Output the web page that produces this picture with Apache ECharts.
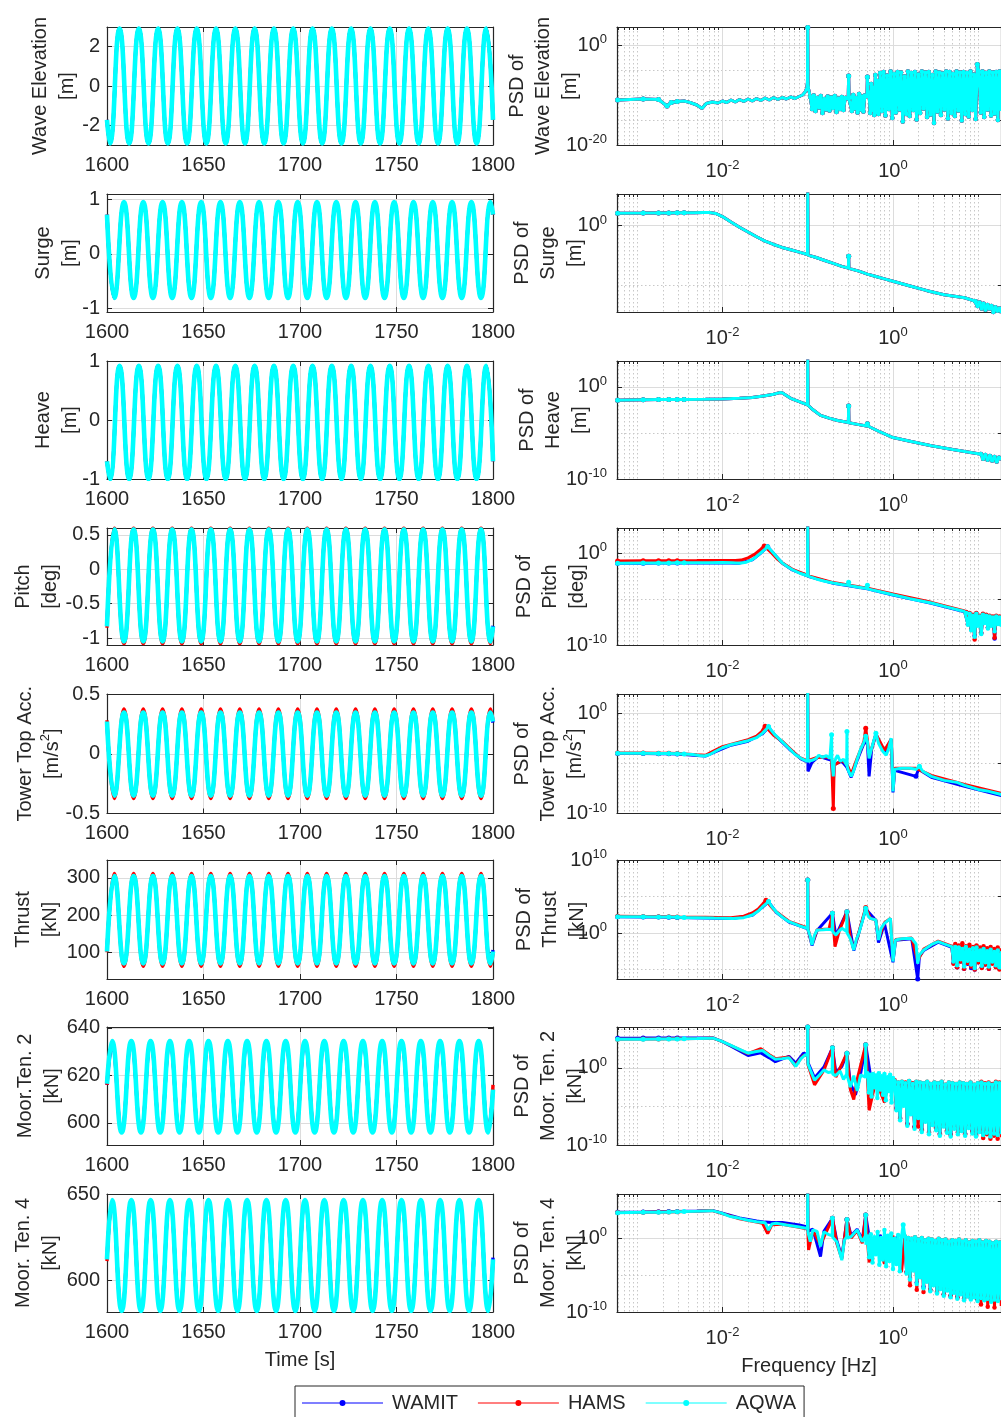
<!DOCTYPE html>
<html><head><meta charset="utf-8">
<script src="https://cdn.jsdelivr.net/npm/echarts@6/dist/echarts.min.js"></script>
<style>html,body{margin:0;padding:0;background:#fff}#c{width:1001px;height:1417px}</style>
</head><body><div id="c"></div><script>
// evenly spaced frequency bins (log10 Hz) for a run of values
function band(lf0, lf1, vals){ const n = vals.length; return vals.map((v,i)=>[lf0 + (lf1-lf0)*i/(n-1), v, 2]); }

// ---------- time axis (s): turning points of the signals ----------
const timeTicks = [1600,1650,1700,1750,1800];
const tA = [1600,1601.5,1606.5,1611.5,1616.5,1621.5,1626.5,1631.5,1636.5,1641.5,1646.5,1651.5,1656.5,1661.5,1666.5,1671.5,1676.5,1681.5,1686.5,1691.5,1696.5,1701.5,1706.5,1711.5,1716.5,1721.5,1726.5,1731.5,1736.5,1741.5,1746.5,1751.5,1756.5,1761.5,1766.5,1771.5,1776.5,1781.5,1786.5,1791.5,1796.5,1800];
const tB = [1600,1603.8,1608.8,1613.8,1618.8,1623.8,1628.8,1633.8,1638.8,1643.8,1648.8,1653.8,1658.8,1663.8,1668.8,1673.8,1678.8,1683.8,1688.8,1693.8,1698.8,1703.8,1708.8,1713.8,1718.8,1723.8,1728.8,1733.8,1738.8,1743.8,1748.8,1753.8,1758.8,1763.8,1768.8,1773.8,1778.8,1783.8,1788.8,1793.8,1798.8,1800];
const tC = [1600,1602.6,1607.6,1612.6,1617.6,1622.6,1627.6,1632.6,1637.6,1642.6,1647.6,1652.6,1657.6,1662.6,1667.6,1672.6,1677.6,1682.6,1687.6,1692.6,1697.6,1702.6,1707.6,1712.6,1717.6,1722.6,1727.6,1732.6,1737.6,1742.6,1747.6,1752.6,1757.6,1762.6,1767.6,1772.6,1777.6,1782.6,1787.6,1792.6,1797.6,1800];

// ---------- time series values ----------
const waveElev = [-1.72,-2.92,2.92,-2.92,2.92,-2.92,2.92,-2.92,2.92,-2.92,2.92,-2.92,2.92,-2.92,2.92,-2.92,2.92,-2.92,2.92,-2.92,2.92,-2.92,2.92,-2.92,2.92,-2.92,2.92,-2.92,2.92,-2.92,2.92,-2.92,2.92,-2.92,2.92,-2.92,2.92,-2.92,2.92,-2.92,2.92,-1.72];
const surgeAll = [0.72,-0.81,0.95,-0.81,0.95,-0.81,0.95,-0.81,0.95,-0.81,0.95,-0.81,0.95,-0.81,0.95,-0.81,0.95,-0.81,0.95,-0.81,0.95,-0.81,0.95,-0.81,0.95,-0.81,0.95,-0.81,0.95,-0.81,0.95,-0.81,0.95,-0.81,0.95,-0.81,0.95,-0.81,0.95,-0.81,0.95,0.72];
const heaveAll = [-0.70,-1.0,0.92,-1.0,0.92,-1.0,0.92,-1.0,0.92,-1.0,0.92,-1.0,0.92,-1.0,0.92,-1.0,0.92,-1.0,0.92,-1.0,0.92,-1.0,0.92,-1.0,0.92,-1.0,0.92,-1.0,0.92,-1.0,0.92,-1.0,0.92,-1.0,0.92,-1.0,0.92,-1.0,0.92,-1.0,0.92,-0.70];
const pitchAQWA = [-0.83,0.58,-1.05,0.58,-1.05,0.58,-1.05,0.58,-1.05,0.58,-1.05,0.58,-1.05,0.58,-1.05,0.58,-1.05,0.58,-1.05,0.58,-1.05,0.58,-1.05,0.58,-1.05,0.58,-1.05,0.58,-1.05,0.58,-1.05,0.58,-1.05,0.58,-1.05,0.58,-1.05,0.58,-1.05,0.58,-1.05,-0.83];
const pitchHAMS = [-0.85,0.60,-1.08,0.60,-1.08,0.60,-1.08,0.60,-1.08,0.60,-1.08,0.60,-1.08,0.60,-1.08,0.60,-1.08,0.60,-1.08,0.60,-1.08,0.60,-1.08,0.60,-1.08,0.60,-1.08,0.60,-1.08,0.60,-1.08,0.60,-1.08,0.60,-1.08,0.60,-1.08,0.60,-1.08,0.60,-1.08,-0.85];
const pitchWAMIT = [-0.82,0.57,-1.04,0.57,-1.04,0.57,-1.04,0.57,-1.04,0.57,-1.04,0.57,-1.04,0.57,-1.04,0.57,-1.04,0.57,-1.04,0.57,-1.04,0.57,-1.04,0.57,-1.04,0.57,-1.04,0.57,-1.04,0.57,-1.04,0.57,-1.04,0.57,-1.04,0.57,-1.04,0.57,-1.04,0.57,-1.04,-0.82];
const towerAQWA = [0.27,-0.35,0.345,-0.35,0.345,-0.35,0.345,-0.35,0.345,-0.35,0.345,-0.35,0.345,-0.35,0.345,-0.35,0.345,-0.35,0.345,-0.35,0.345,-0.35,0.345,-0.35,0.345,-0.35,0.345,-0.35,0.345,-0.35,0.345,-0.35,0.345,-0.35,0.345,-0.35,0.345,-0.35,0.345,-0.35,0.345,0.27];
const towerHAMS = [0.28,-0.375,0.375,-0.375,0.375,-0.375,0.375,-0.375,0.375,-0.375,0.375,-0.375,0.375,-0.375,0.375,-0.375,0.375,-0.375,0.375,-0.375,0.375,-0.375,0.375,-0.375,0.375,-0.375,0.375,-0.375,0.375,-0.375,0.375,-0.375,0.375,-0.375,0.375,-0.375,0.375,-0.375,0.375,-0.375,0.375,0.28];
const towerWAMIT = [0.26,-0.335,0.33,-0.335,0.33,-0.335,0.33,-0.335,0.33,-0.335,0.33,-0.335,0.33,-0.335,0.33,-0.335,0.33,-0.335,0.33,-0.335,0.33,-0.335,0.33,-0.335,0.33,-0.335,0.33,-0.335,0.33,-0.335,0.33,-0.335,0.33,-0.335,0.33,-0.335,0.33,-0.335,0.33,-0.335,0.33,0.26];
const thrustAQWA = [102,305,70,305,70,305,70,305,70,305,70,305,70,305,70,305,70,305,70,305,70,305,70,305,70,305,70,305,70,305,70,305,70,305,70,305,70,305,70,305,70,102];
const thrustHAMS = [100,312,62,312,62,312,62,312,62,312,62,312,62,312,62,312,62,312,62,312,62,312,62,312,62,312,62,312,62,312,62,312,62,312,62,312,62,312,62,312,62,98];
const thrustWAMIT = [103,300,74,300,74,300,74,300,74,300,74,300,74,300,74,300,74,300,74,300,74,300,74,300,74,300,74,300,74,300,74,300,74,300,74,300,74,300,74,300,74,106];
const moor2AQWA = [616.5,634.5,596,634.5,596,634.5,596,634.5,596,634.5,596,634.5,596,634.5,596,634.5,596,634.5,596,634.5,596,634.5,596,634.5,596,634.5,596,634.5,596,634.5,596,634.5,596,634.5,596,634.5,596,634.5,596,634.5,596,614];
const moor2HAMS = [616,633.5,597,633.5,597,633.5,597,633.5,597,633.5,597,633.5,597,633.5,597,633.5,597,633.5,597,633.5,597,633.5,597,633.5,597,633.5,597,633.5,597,633.5,597,633.5,597,633.5,597,633.5,597,633.5,597,633.5,597,616];
const moor2WAMIT = [616,632,598,632,598,632,598,632,598,632,598,632,598,632,598,632,598,632,598,632,598,632,598,632,598,632,598,632,598,632,598,632,598,632,598,632,598,632,598,632,598,614];
const moor4AQWA = [612,646.5,582,646.5,582,646.5,582,646.5,582,646.5,582,646.5,582,646.5,582,646.5,582,646.5,582,646.5,582,646.5,582,646.5,582,646.5,582,646.5,582,646.5,582,646.5,582,646.5,582,646.5,582,646.5,582,646.5,582,612];
const moor4HAMS = [611,645,583.5,645,583.5,645,583.5,645,583.5,645,583.5,645,583.5,645,583.5,645,583.5,645,583.5,645,583.5,645,583.5,645,583.5,645,583.5,645,583.5,645,583.5,645,583.5,645,583.5,645,583.5,645,583.5,645,583.5,611];
const moor4WAMIT = [612,644,584,644,584,644,584,644,584,644,584,644,584,644,584,644,584,644,584,644,584,644,584,644,584,644,584,644,584,644,584,644,584,644,584,644,584,644,584,644,584,613];

// ---------- PSD: [log10 f (Hz), log10 PSD, marker flag] ----------
const psdXMajor = [-2, 0];
const psdWave = [[-3.23,-11.0,1],[-2.93,-10.8,1],[-2.75,-10.9,1],[-2.65,-12.2,1],[-2.6,-11.5,1],[-2.53,-11.3,1],[-2.45,-11.2],[-2.38,-11.5],[-2.3,-12.0],[-2.24,-12.7],[-2.19,-11.7],[-2.12,-11.4],[-2.05,-11.6],[-2.0,-11.2],[-1.95,-11.5],[-1.9,-11.0],[-1.85,-11.4],[-1.8,-10.9],[-1.75,-11.3],[-1.7,-10.8],[-1.65,-11.2],[-1.6,-10.7],[-1.55,-11.1],[-1.5,-10.6],[-1.45,-11.0],[-1.4,-10.5],[-1.35,-10.9],[-1.3,-10.5],[-1.25,-10.8],[-1.2,-10.4],[-1.15,-10.7],[-1.1,-10.3],[-1.06,-10.0],[-1.03,-9.4],[-1.01,-8.6],[-1.003,-7.5],[-1.0,3.5,1],[-0.997,-7.5],[-0.99,-8.8],[-0.98,-9.6]]
 .concat(band(-0.97,-0.56,[-10.4,-12.8,-10.1,-13.2,-10.6,-12.5,-10.2,-13.6,-10.8,-12.9,-10.3,-13.1,-10.5,-12.6,-10.2,-13.4,-10.7,-12.8,-10.4,-13.0,-10.6]))
 .concat([[-0.525,-10.8],[-0.52,-6.2,1],[-0.515,-10.9]])
 .concat(band(-0.50,-0.33,[-10.5,-13.2,-10.0,-12.7,-10.6,-13.5,-9.8,-12.9,-10.3,-13.3,-10.1]))
 .concat([[-0.305,-10.5],[-0.30,-6.4,1],[-0.295,-10.6]])
 .concat(band(-0.28,-0.17,[-9.5,-13.6,-7.8,-13.0,-8.5,-14.0,-6.0,-13.4,-7.2,-13.8]))
 .concat(band(-0.15,0.97,[-5.6,-13.2,-5.4,-14.1,-6.1,-12.8,-5.3,-14.6,-5.8,-13.5,-5.4,-12.9,-5.5,-15.3,-6.3,-13.8,-5.3,-14.2,-5.6,-13.0,-5.4,-14.9,-5.9,-13.6,-5.3,-12.7,-5.5,-14.4,-5.4,-13.9,-6.0,-15.6,-5.3,-13.3,-5.5,-14.0,-5.7,-12.9,-5.3,-14.7,-5.4,-13.6,-5.8,-14.2,-5.3,-13.1,-5.5,-15.1,-5.4,-13.8,-5.6,-14.3,-5.3,-13.0,-5.9,-14.8]))
 .concat([[0.99,-3.9,1]])
 .concat(band(1.01,1.27,[-5.4,-13.5,-5.3,-14.4,-5.6,-12.9,-5.3,-14.1,-5.5,-13.7,-5.4,-15.0,-5.3,-13.2]));

const psdSurge = [[-3.23,1.04,1],[-2.93,1.05,1],[-2.75,1.06,1],[-2.63,1.06,1],[-2.53,1.07,1],[-2.45,1.07,1],[-2.33,1.08],[-2.23,1.1],[-2.15,1.1],[-2.08,1.02],[-2.0,0.76],[-1.9,0.3],[-1.8,-0.15],[-1.7,-0.55],[-1.6,-0.95],[-1.5,-1.32],[-1.4,-1.6],[-1.3,-1.85],[-1.2,-2.05],[-1.1,-2.25],[-1.003,-2.45],[-1.0,2.9,1],[-0.997,-2.5],[-0.9,-2.7],[-0.8,-2.95],[-0.7,-3.2],[-0.6,-3.45],[-0.523,-3.6],[-0.52,-2.6,1],[-0.517,-3.62],[-0.4,-3.85],[-0.3,-4.1],[-0.2,-4.3],[-0.1,-4.5],[0,-4.7],[0.2,-5.1],[0.4,-5.5],[0.6,-5.85],[0.84,-6.1],[0.95,-6.35]]
 .concat(band(0.97,1.27,[-6.4,-6.8,-6.5,-7.0,-6.6,-7.1,-6.7,-7.0,-6.8,-7.3,-6.9,-7.2,-7.0,-7.4]));

const psdHeave = [[-3.23,-1.45,1],[-2.93,-1.4,1],[-2.75,-1.38,1],[-2.63,-1.38,1],[-2.53,-1.37,1],[-2.45,-1.37,1],[-2.2,-1.35],[-2.0,-1.33],[-1.8,-1.25],[-1.65,-1.15],[-1.5,-0.98],[-1.4,-0.8],[-1.33,-0.63],[-1.3,-0.64],[-1.25,-0.95],[-1.2,-1.25],[-1.1,-1.6],[-1.003,-1.95],[-1.0,3,1],[-0.997,-2.0],[-0.95,-2.4],[-0.85,-3.1],[-0.75,-3.4],[-0.65,-3.65],[-0.523,-3.88],[-0.52,-2.07,1],[-0.517,-3.9],[-0.4,-4.1],[-0.31,-4.24],[-0.30,-4.0,1],[-0.29,-4.28],[-0.15,-4.9],[0,-5.5],[0.2,-5.9],[0.45,-6.4],[0.7,-6.8],[1.0,-7.25]]
 .concat(band(1.03,1.27,[-7.3,-7.8,-7.4,-7.9,-7.5,-8.0,-7.6,-8.1,-7.7,-7.9]));

const psdPitchAQWA = [[-3.23,-1.09,1],[-2.93,-1.07,1],[-2.75,-1.06,1],[-2.63,-1.06,1],[-2.53,-1.05,1],[-2.45,-1.05,1],[-2.3,-1.04],[-2.15,-1.03],[-2.0,-1.02],[-1.88,-1.04],[-1.8,-1.08],[-1.72,-0.98],[-1.65,-0.7],[-1.6,-0.35],[-1.55,0.05],[-1.5,0.45],[-1.47,0.72,1],[-1.44,0.4],[-1.4,0.0],[-1.35,-0.55],[-1.3,-1.05],[-1.24,-1.45],[-1.18,-1.8],[-1.1,-2.15],[-1.003,-2.45],[-1.0,3,1],[-0.997,-2.5],[-0.9,-2.8],[-0.8,-3.05],[-0.7,-3.25],[-0.6,-3.4],[-0.523,-3.5],[-0.52,-3.15,1],[-0.517,-3.52],[-0.4,-3.7],[-0.303,-3.85],[-0.3,-3.5,1],[-0.297,-3.88],[-0.15,-4.2],[0,-4.53],[0.2,-4.95],[0.45,-5.43],[0.65,-5.9],[0.84,-6.35]]
 .concat(band(0.86,1.27,[-6.5,-7.8,-6.6,-8.4,-6.8,-9.1,-6.6,-7.9,-6.9,-8.8,-6.7,-7.6,-6.8,-8.2,-6.9,-7.9,-7.0,-8.5,-6.9,-7.7,-7.0,-8.0]));
const psdPitchHAMS = [[-3.23,-0.85,1],[-2.93,-0.83,1],[-2.75,-0.82,1],[-2.63,-0.82,1],[-2.53,-0.81,1],[-2.3,-0.8],[-2.0,-0.78],[-1.85,-0.8],[-1.78,-0.75],[-1.7,-0.5],[-1.62,-0.1],[-1.56,0.35],[-1.51,0.8,1],[-1.47,0.45],[-1.42,0.0],[-1.36,-0.6],[-1.3,-1.05],[-1.18,-1.75],[-1.003,-2.4],[-1.0,3,1],[-0.997,-2.45],[-0.7,-3.2],[-0.3,-3.8],[0,-4.45],[0.45,-5.35],[0.84,-6.3]]
 .concat(band(0.86,1.27,[-6.4,-7.7,-6.5,-8.3,-6.7,-9.4,-6.5,-7.8,-6.8,-8.7,-6.6,-7.5,-6.7,-8.1,-6.8,-7.8,-6.9,-9.2,-6.8,-7.6,-6.9,-7.9]));
const psdPitchWAMIT = [[-3.23,-1.1,1],[-2.93,-1.08,1],[-2.75,-1.07,1],[-2.63,-1.07,1],[-2.53,-1.06,1],[-2.0,-1.03],[-1.8,-1.08],[-1.65,-0.72],[-1.55,0.03],[-1.47,0.7,1],[-1.4,-0.02],[-1.3,-1.07],[-1.18,-1.82],[-1.003,-2.47],[-1.0,3,1],[-0.997,-2.52],[-0.7,-3.27],[-0.3,-3.87],[0,-4.55],[0.45,-5.45],[0.84,-6.37]]
 .concat(band(0.86,1.27,[-6.5,-7.7,-6.6,-8.3,-6.8,-9.0,-6.6,-7.8,-6.9,-8.7,-6.7,-7.5,-6.8,-8.1,-6.9,-7.8,-7.0,-9.3,-6.9,-7.6,-7.0,-7.9]));

const psdTowerAQWA = [[-3.23,-4.0,1],[-2.93,-4.0,1],[-2.75,-4.02,1],[-2.63,-4.03,1],[-2.53,-4.05,1],[-2.45,-4.07,1],[-2.35,-4.12],[-2.27,-4.22],[-2.21,-4.27],[-2.15,-4.12],[-2.08,-3.8],[-2.0,-3.45],[-1.9,-3.15],[-1.8,-2.95],[-1.7,-2.75],[-1.6,-2.45],[-1.53,-2.0],[-1.49,-1.65],[-1.46,-1.33,1],[-1.43,-1.7],[-1.38,-2.2],[-1.3,-2.85],[-1.22,-3.5],[-1.15,-4.1],[-1.08,-4.5],[-1.03,-4.7],[-1.003,-4.8],[-1.0,2.0,1],[-0.997,-4.8],[-0.95,-4.7],[-0.9,-4.5],[-0.87,-4.2],[-0.83,-4.4],[-0.78,-4.25],[-0.74,-4.5],[-0.723,-4.6],[-0.72,-2.17,1],[-0.717,-4.6],[-0.70,-6.3],[-0.69,-5.0],[-0.67,-4.5],[-0.65,-4.2],[-0.62,-4.8],[-0.58,-4.6],[-0.543,-5.2],[-0.54,-1.83,1],[-0.537,-5.3],[-0.52,-5.8],[-0.49,-6.3],[-0.46,-5.7],[-0.42,-4.6],[-0.38,-3.6],[-0.34,-2.9],[-0.32,-2.3,1],[-0.30,-2.8],[-0.28,-4.5],[-0.25,-3.5],[-0.2,-2.0,1],[-0.17,-3.0],[-0.12,-3.8],[-0.08,-4.2],[-0.05,-3.5],[-0.02,-2.5],[0.0,-7.8],[0.02,-5.6],[0.1,-5.5],[0.2,-5.5],[0.27,-5.6],[0.31,-5.3,1],[0.35,-5.8],[0.45,-6.3],[0.6,-6.7],[0.75,-6.9],[0.84,-7.2],[1.0,-7.6],[1.1,-7.75],[1.27,-8.1]];
const psdTowerHAMS = [[-3.23,-3.98,1],[-2.93,-3.98,1],[-2.75,-4.0,1],[-2.63,-4.0,1],[-2.53,-4.02,1],[-2.3,-4.15],[-2.2,-4.2],[-2.1,-3.75],[-2.0,-3.35],[-1.85,-3.0],[-1.7,-2.65],[-1.6,-2.3],[-1.54,-1.85],[-1.5,-1.3,1],[-1.46,-1.65],[-1.4,-2.2],[-1.3,-2.8],[-1.2,-3.6],[-1.1,-4.4],[-1.003,-4.75],[-1.0,2.0,1],[-0.997,-4.75],[-0.9,-4.45],[-0.8,-4.35],[-0.72,-4.5],[-0.70,-9.5,1],[-0.69,-5.2],[-0.6,-4.7],[-0.54,-5.1],[-0.49,-6.1],[-0.42,-4.5],[-0.34,-2.8],[-0.32,-1.5,1],[-0.30,-2.7],[-0.28,-4.4],[-0.2,-2.1],[-0.1,-3.7],[-0.02,-2.6],[0.0,-7.6],[0.02,-5.5],[0.27,-5.5],[0.45,-6.2],[0.84,-7.1],[1.27,-8.0]];
const psdTowerWAMIT = [[-3.23,-4.02,1],[-2.93,-4.02,1],[-2.75,-4.04,1],[-2.63,-4.05,1],[-2.53,-4.08,1],[-2.3,-4.22],[-2.2,-4.28],[-2.08,-3.85],[-1.9,-3.2],[-1.7,-2.8],[-1.53,-2.05],[-1.46,-1.4,1],[-1.38,-2.25],[-1.22,-3.55],[-1.08,-4.55],[-1.003,-4.85],[-1.0,2.0,1],[-0.997,-5.8],[-0.98,-5.7],[-0.95,-4.9],[-0.87,-4.3],[-0.72,-4.7],[-0.70,-7.0],[-0.69,-5.1],[-0.6,-4.8],[-0.54,-5.4],[-0.49,-6.4],[-0.42,-4.7],[-0.34,-3.0],[-0.30,-2.9],[-0.28,-6.3],[-0.25,-3.6],[-0.2,-2.1],[-0.1,-3.9],[-0.02,-2.6],[0.0,-7.9],[0.02,-5.7],[0.27,-6.3,1],[0.3,-5.6],[0.45,-6.4],[0.84,-7.3],[1.27,-8.2]];

const psdThrustAQWA = [[-3.23,2.24,1],[-2.93,2.22,1],[-2.75,2.2,1],[-2.63,2.18,1],[-2.53,2.15,1],[-2.45,2.12,1],[-2.3,2.1],[-2.1,2.05],[-1.88,2.0],[-1.75,2.1],[-1.65,2.47],[-1.58,3.0],[-1.53,3.6],[-1.49,4.0],[-1.46,4.3,1],[-1.42,3.6],[-1.37,2.9],[-1.3,2.2],[-1.22,1.55],[-1.1,1.0],[-1.003,0.64],[-1.0,7.26,1],[-0.997,0.5],[-0.97,-0.5],[-0.95,-1.64],[-0.92,-0.3],[-0.89,0.41],[-0.82,0.45],[-0.75,0.5],[-0.713,0.4],[-0.71,2.7,1],[-0.707,0.2],[-0.67,-0.27],[-0.63,0.3],[-0.6,0.64],[-0.543,0.2],[-0.54,2.92,1],[-0.537,0.0],[-0.5,-0.8],[-0.46,-2.33],[-0.43,-0.9],[-0.40,0.0],[-0.36,1.6],[-0.32,3.38,1],[-0.29,2.3],[-0.265,2.0],[-0.2,1.78],[-0.17,-0.96],[-0.14,0.6],[-0.1,1.33],[-0.03,2.0],[0.0,-3.9],[0.03,-0.96],[0.1,-0.8],[0.22,-0.73],[0.27,-1.5],[0.29,-4.2],[0.31,-3.0],[0.36,-2.33],[0.45,-1.6],[0.53,-1.19],[0.6,-1.5],[0.69,-1.87]]
 .concat(band(0.71,1.27,[-3.9,-1.9,-4.4,-2.0,-3.6,-2.2,-4.6,-1.9,-3.8,-2.3,-4.3,-2.1,-4.8,-2.0,-3.7,-2.4,-4.5,-2.2,-4.0,-2.5,-4.6,-2.3,-3.9,-2.6,-4.4,-2.4,-4.7,-2.5]));
const psdThrustHAMS = [[-3.23,2.28,1],[-2.93,2.26,1],[-2.75,2.24,1],[-2.63,2.22,1],[-2.53,2.2,1],[-2.2,2.15],[-1.9,2.1],[-1.75,2.3],[-1.65,2.75],[-1.58,3.3],[-1.53,3.95],[-1.49,4.5,1],[-1.45,3.9],[-1.4,3.2],[-1.3,2.3],[-1.22,1.6],[-1.003,0.7],[-1.0,7.26,1],[-0.997,0.6],[-0.95,-1.5],[-0.89,0.45],[-0.75,0.55],[-0.71,2.7,1],[-0.68,-1.87],[-0.63,0.3],[-0.54,2.92,1],[-0.5,-0.7],[-0.46,-2.2],[-0.40,0.1],[-0.32,3.5,1],[-0.265,2.0],[-0.2,1.8],[-0.17,-0.8],[-0.1,1.4],[-0.03,2.0],[0.0,-3.7],[0.03,-0.9],[0.22,-0.7],[0.29,-3.8],[0.36,-2.2],[0.53,-1.1],[0.69,-1.8]]
 .concat(band(0.71,1.27,[-4.2,-1.5,-4.7,-1.7,-3.9,-1.4,-4.9,-1.8,-4.1,-1.6,-4.6,-1.9,-5.0,-1.7,-4.0,-2.0,-4.8,-1.8,-4.3,-2.1,-4.9,-1.9,-4.2,-2.2,-4.7,-2.0,-5.0,-2.1]));
const psdThrustWAMIT = [[-3.23,2.22,1],[-2.93,2.2,1],[-2.75,2.18,1],[-2.63,2.16,1],[-2.53,2.13,1],[-2.2,2.06],[-1.88,1.98],[-1.65,2.42],[-1.53,3.55],[-1.46,4.25,1],[-1.37,2.85],[-1.22,1.5],[-1.003,0.6],[-1.0,7.26,1],[-0.997,0.45],[-0.95,-1.7],[-0.89,0.35],[-0.71,2.7,1],[-0.67,-0.4],[-0.54,2.92,1],[-0.46,-2.4],[-0.32,3.3,1],[-0.2,1.7],[-0.17,-1.3],[-0.1,1.3],[0.0,-4.0],[0.03,-1.0],[0.22,-0.8],[0.29,-6.3,1],[0.31,-3.2],[0.36,-2.4],[0.53,-1.25],[0.69,-1.95]]
 .concat(band(0.71,1.27,[-4.1,-2.0,-4.7,-2.1,-3.9,-2.3,-4.9,-2.0,-4.2,-2.4,-4.8,-2.2,-5.0,-2.1,-4.0,-2.5,-4.7,-2.3,-4.3,-2.6,-4.9,-2.4,-4.1,-2.7,-4.6,-2.5,-4.9,-2.6]));

const psdMoor2AQWA = [[-3.23,3.7,1],[-2.93,3.72,1],[-2.75,3.74,1],[-2.63,3.75,1],[-2.53,3.76,1],[-2.45,3.77,1],[-2.3,3.8],[-2.11,3.85],[-2.02,3.5],[-1.92,3.0],[-1.8,2.4],[-1.7,1.9],[-1.62,2.1],[-1.53,2.25],[-1.45,1.6],[-1.38,1.13],[-1.3,1.2],[-1.22,1.3],[-1.16,0.5],[-1.14,0.2],[-1.08,1.2],[-1.03,1.7],[-1.003,1.6],[-1.0,5.3,1],[-0.997,0.5],[-0.97,-0.26],[-0.92,-1.6],[-0.86,-0.9],[-0.81,-0.26],[-0.76,-0.6],[-0.713,-0.5],[-0.71,2.6,1],[-0.707,-0.8],[-0.67,-1.0],[-0.62,-0.4],[-0.58,-1.5],[-0.543,-0.8],[-0.54,1.9,1],[-0.537,-1.0],[-0.5,-2.5],[-0.46,-1.0],[-0.42,-3.0],[-0.38,-0.9],[-0.323,-1.2],[-0.32,3.0,1],[-0.317,-1.3]]
 .concat(band(-0.30,0.0,[-0.7,-3.2,-0.9,-3.7,-0.8,-2.5,-1.0,-3.9,-0.7,-2.8,-1.1,-3.5,-0.8,-4.2,-1.2,-3.0,-0.9,-4.5,-1.3]))
 .concat(band(0.02,1.27,[-1.7,-5.5,-1.9,-6.8,-1.8,-4.9,-2.0,-7.5,-1.7,-6.0,-2.1,-7.9,-1.8,-6.5,-1.9,-8.3,-2.0,-7.0,-1.8,-8.6,-2.1,-7.4,-1.9,-8.1,-2.0,-8.8,-1.8,-7.6,-2.2,-8.4,-1.9,-8.9,-2.0,-7.9,-2.1,-8.6,-1.9,-8.2,-2.0,-8.8,-2.1,-7.8,-1.9,-8.5,-2.2,-8.9,-2.0,-8.3,-1.9,-8.7,-2.1,-8.4,-2.0,-8.9,-2.2,-8.5,-1.9,-8.7,-2.0,-8.6]));
const psdMoor2HAMS = [[-3.23,3.72,1],[-2.93,3.74,1],[-2.75,3.76,1],[-2.63,3.77,1],[-2.53,3.78,1],[-2.3,3.82],[-2.11,3.86],[-2.0,3.4],[-1.9,2.9],[-1.7,1.85],[-1.55,2.5],[-1.45,1.7],[-1.38,1.2],[-1.22,1.4],[-1.15,0.3],[-1.05,1.6],[-1.003,1.6],[-1.0,5.3,1],[-0.997,0.4],[-0.92,-2.2],[-0.81,-0.3],[-0.71,2.6,1],[-0.67,-1.2],[-0.54,1.9,1],[-0.5,-2.8],[-0.46,-4.1],[-0.42,-1.5],[-0.32,3.0,1],[-0.28,-5.5],[-0.2,-1.6],[-0.1,-4.5],[-0.05,-1.5]]
 .concat(band(0.02,1.27,[-1.6,-5.3,-1.9,-6.6,-1.8,-4.7,-1.9,-7.3,-1.7,-5.8,-2.0,-7.7,-1.8,-7.6,-1.9,-8.1,-2.0,-6.8,-1.8,-8.4,-2.1,-7.2,-1.9,-7.9,-2.0,-8.6,-1.8,-7.4,-2.2,-8.2,-1.9,-8.7,-2.0,-7.7,-2.1,-8.4,-1.9,-8.0,-2.0,-8.6,-2.1,-7.6,-1.9,-8.3,-2.2,-8.7,-2.0,-8.1,-1.8,-9.1,-2.0,-8.6,-1.9,-9.2,-2.1,-8.8,-1.8,-9.2,-1.9,-9.0]));
const psdMoor2WAMIT = [[-3.23,3.85,1],[-2.93,3.86,1],[-2.75,3.87,1],[-2.63,3.87,1],[-2.53,3.88,1],[-2.3,3.88],[-2.11,3.88],[-2.0,3.4],[-1.9,2.8],[-1.7,1.6],[-1.55,1.95],[-1.45,1.3],[-1.38,0.8],[-1.22,1.5],[-1.14,0.6],[-1.05,1.9],[-1.003,1.7],[-1.0,5.3,1],[-0.997,0.7],[-0.92,-1.3],[-0.81,0.1],[-0.71,2.6,1],[-0.67,-0.6],[-0.6,0.2],[-0.54,1.9,1],[-0.5,-2.0],[-0.44,-3.5],[-0.38,-0.8],[-0.32,3.0,1],[-0.25,-2.0],[-0.15,-1.2],[-0.1,-3.2],[0.0,-1.4]]
 .concat(band(0.02,1.27,[-1.8,-5.2,-2.0,-6.5,-1.9,-4.7,-2.1,-7.2,-1.8,-5.7,-2.2,-7.6,-1.9,-6.2,-2.0,-8.0,-2.1,-6.7,-1.9,-8.3,-2.2,-7.1,-2.0,-7.8,-2.1,-8.5,-1.9,-7.3,-2.3,-8.1,-2.0,-8.6,-2.1,-7.6,-2.2,-8.3,-2.0,-7.9,-2.1,-8.5,-2.2,-7.5,-2.0,-8.2,-2.3,-8.6,-2.1,-8.0,-2.0,-8.4,-2.2,-8.1,-2.1,-8.6,-2.3,-8.2,-2.0,-8.4,-2.1,-8.3]));

const psdMoor4AQWA = [[-3.23,3.43,1],[-2.93,3.47,1],[-2.75,3.5,1],[-2.63,3.52,1],[-2.53,3.55,1],[-2.45,3.57,1],[-2.3,3.62],[-2.12,3.7],[-2.02,3.4],[-1.92,2.95],[-1.8,2.66],[-1.7,2.4],[-1.6,2.2],[-1.5,2.07],[-1.46,1.08],[-1.42,1.9],[-1.37,2.0],[-1.25,1.75],[-1.1,1.5],[-1.003,1.3],[-1.0,6.0,1],[-0.997,0.8],[-0.97,-0.5],[-0.94,1.1],[-0.89,0.9],[-0.85,-1.15],[-0.81,0.85],[-0.76,0.5],[-0.713,0.3],[-0.71,2.66,1],[-0.707,0.1],[-0.66,-0.5],[-0.6,-3.0],[-0.57,-0.3],[-0.543,0.2],[-0.54,2.5,1],[-0.537,0.0],[-0.49,0.2],[-0.42,1.1],[-0.36,-0.5],[-0.323,0.3],[-0.32,3.1,1],[-0.317,-0.9]]
 .concat(band(-0.30,0.10,[0.2,-2.6,0.5,-3.3,0.1,-2.2,0.8,-3.6,0.0,-2.9,1.1,-3.8,0.3,-3.1,0.6,-4.2,-0.1,-3.5,0.4,-4.5,0.2]))
 .concat([[0.12,1.8,1]])
 .concat(band(0.14,1.27,[0.2,-4.8,0.0,-5.6,-0.1,-4.4,0.1,-6.2,-0.2,-5.3,0.0,-6.8,-0.3,-5.9,-0.1,-7.2,-0.2,-6.4,-0.4,-7.5,-0.1,-6.9,-0.3,-7.8,-0.2,-7.1,-0.5,-8.0,-0.3,-7.4,-0.4,-8.2,-0.2,-7.6,-0.5,-8.4,-0.3,-7.9,-0.6,-8.3,-0.4,-8.0,-0.5,-8.5,-0.3,-8.1,-0.6,-8.4,-0.4,-8.2,-0.5,-8.6,-0.7,-8.3,-0.5,-8.5,-0.6,-8.4]));
const psdMoor4HAMS = [[-3.23,3.45,1],[-2.93,3.48,1],[-2.75,3.51,1],[-2.63,3.53,1],[-2.53,3.56,1],[-2.3,3.63],[-2.12,3.71],[-2.0,3.3],[-1.8,2.6],[-1.6,2.15],[-1.53,2.0],[-1.47,0.6],[-1.42,1.8],[-1.3,1.85],[-1.1,1.45],[-1.003,1.2],[-1.0,6.0,1],[-0.997,0.5],[-0.99,-1.6],[-0.94,1.0],[-0.85,-0.9],[-0.71,2.66,1],[-0.66,-0.7],[-0.6,-2.8],[-0.54,2.5,1],[-0.49,0.0],[-0.42,1.0],[-0.36,-0.7],[-0.32,3.1,1],[-0.28,-3.3],[-0.2,0.1],[-0.1,-3.5],[0.0,0.3],[0.1,-4.6]]
 .concat(band(0.14,1.27,[0.2,-4.6,0.0,-6.4,-0.1,-4.2,0.1,-7.0,-0.2,-5.1,0.0,-7.3,-0.3,-5.7,-0.1,-7.0,-0.2,-6.2,-0.4,-7.3,-0.1,-6.7,-0.3,-7.6,-0.2,-6.9,-0.5,-7.8,-0.3,-7.2,-0.4,-8.0,-0.2,-7.4,-0.5,-8.2,-0.3,-7.7,-0.6,-8.1,-0.4,-7.8,-0.5,-8.3,-0.3,-9.0,-0.6,-8.2,-0.4,-9.3,-0.5,-8.4,-0.7,-9.4,-0.5,-8.3,-0.6,-9.2]));
const psdMoor4WAMIT = [[-3.23,3.5,1],[-2.93,3.53,1],[-2.75,3.56,1],[-2.63,3.58,1],[-2.53,3.6,1],[-2.3,3.66],[-2.12,3.73],[-2.0,3.35],[-1.8,2.7],[-1.6,2.3],[-1.5,2.15],[-1.42,2.1],[-1.3,2.1],[-1.1,1.75],[-1.003,1.5],[-1.0,6.0,1],[-0.997,0.9],[-0.94,1.2],[-0.85,-2.5],[-0.81,0.9],[-0.71,2.66,1],[-0.66,-0.3],[-0.6,-2.6],[-0.54,2.5,1],[-0.49,0.3],[-0.42,1.2],[-0.36,-0.3],[-0.32,3.1,1],[-0.25,-2.0],[-0.15,0.4],[-0.05,-3.0],[0.05,0.2],[0.1,-3.8]]
 .concat(band(0.14,1.27,[0.1,-4.6,-0.1,-5.4,-0.2,-4.2,0.0,-6.0,-0.3,-5.1,-0.1,-6.6,-0.4,-5.7,-0.2,-7.0,-0.3,-6.2,-0.5,-7.3,-0.2,-6.7,-0.4,-7.6,-0.3,-6.9,-0.6,-7.8,-0.4,-7.2,-0.5,-8.0,-0.3,-7.4,-0.6,-8.2,-0.4,-7.7,-0.7,-8.1,-0.5,-7.8,-0.6,-8.3,-0.4,-7.9,-0.7,-8.2,-0.5,-8.0,-0.6,-8.4,-0.8,-8.1,-0.6,-8.3,-0.7,-8.2]));

// ---------- layout / styling ----------
const FONT = '"Liberation Sans", Arial, Helvetica, sans-serif';
const INK = '#262626';
const GMAJ = '#dcdcdc';
const GMIN = '#c8c8c8';
const NAMES = ['WAMIT','HAMS','AQWA'];
const COLORS = ['#0000ff','#ff0000','#00ffff'];
const TS_WIDTH = [3.4, 3.4, 4.6];
const F_MIN = -3.237, F_MAX = 1.267;
const psdXMinor = [];
for (let n=-4; n<=1; n++) for (let k=1; k<=9; k++) { const v = n + Math.log10(k); if (v > F_MIN && v < F_MAX && !(k===1 && (n===-2||n===0))) psdXMinor.push(v); }

const rows = [
 {label:'Wave Elevation\n[m]', psd:'PSD of\nWave Elevation\n[m]', top:27, h:118, yMin:-3, yMax:3, yTicks:[-2,0,2], pMin:-20, pMax:3.6, pMajor:[-20,0], pMinor:[-15,-10,-5], gapL:26.5, gapR:33.7, t:tA, ts:[waveElev,waveElev,waveElev], ps:[psdWave,psdWave,psdWave]},
 {label:'Surge\n[m]', psd:'PSD of\nSurge\n[m]', top:194, h:118, yMin:-1.07, yMax:1.1, yTicks:[-1,0,1], pMin:-7.3, pMax:2.66, pMajor:[0], pMinor:[-5], gapL:23.5, gapR:28.7, t:tB, ts:[surgeAll,surgeAll,surgeAll], ps:[psdSurge,psdSurge,psdSurge]},
 {label:'Heave\n[m]', psd:'PSD of\nHeave\n[m]', top:361, h:118, yMin:-1, yMax:1, yTicks:[-1,0,1], pMin:-10, pMax:2.8, pMajor:[-10,0], pMinor:[-5], gapL:23.5, gapR:23.7, t:tA, ts:[heaveAll,heaveAll,heaveAll], ps:[psdHeave,psdHeave,psdHeave]},
 {label:'Pitch\n[deg]', psd:'PSD of\nPitch\n[deg]', top:528, h:117, yMin:-1.1, yMax:0.6, yTicks:[-1,-0.5,0,0.5], pMin:-10, pMax:2.75, pMajor:[-10,0], pMinor:[-5], gapL:43.5, gapR:26.7, t:tB, ts:[pitchWAMIT,pitchHAMS,pitchAQWA], ps:[psdPitchWAMIT,psdPitchHAMS,psdPitchAQWA]},
 {label:'Tower Top Acc.\n[m/s{sup|2}]', psd:'PSD of\nTower Top Acc.\n[m/s{sup|2}]', top:694, h:119.5, yMin:-0.5, yMax:0.5, yTicks:[-0.5,0,0.5], pMin:-10, pMax:1.9, pMajor:[-10,0], pMinor:[-5], gapL:41.5, gapR:28.7, t:tB, ts:[towerWAMIT,towerHAMS,towerAQWA], ps:[psdTowerWAMIT,psdTowerHAMS,psdTowerAQWA]},
 {label:'Thrust\n[kN]', psd:'PSD of\nThrust\n[kN]', top:860, h:119, yMin:28, yMax:348, yTicks:[100,200,300], pMin:-6.3, pMax:10, pMajor:[0,10], pMinor:[-5,5], gapL:43.5, gapR:26.7, t:tB, ts:[thrustWAMIT,thrustHAMS,thrustAQWA], ps:[psdThrustWAMIT,psdThrustHAMS,psdThrustAQWA]},
 {label:'Moor.Ten. 2\n[kN]', psd:'PSD of\nMoor. Ten. 2\n[kN]', top:1027, h:118, yMin:590.7, yMax:640.4, yTicks:[600,620,640], pMin:-10, pMax:5.3, pMajor:[-10,0], pMinor:[-5,5], gapL:41.5, gapR:28.7, t:tC, ts:[moor2WAMIT,moor2HAMS,moor2AQWA], ps:[psdMoor2WAMIT,psdMoor2HAMS,psdMoor2AQWA]},
 {label:'Moor. Ten. 4\n[kN]', psd:'PSD of\nMoor. Ten. 4\n[kN]', top:1194, h:118, yMin:581.4, yMax:650, yTicks:[600,650], pMin:-10, pMax:5.95, pMajor:[-10,0], pMinor:[-5,5], gapL:43.5, gapR:28.7, t:tC, ts:[moor4WAMIT,moor4HAMS,moor4AQWA], ps:[psdMoor4WAMIT,psdMoor4HAMS,psdMoor4AQWA]}
];

const grid = [], xAxis = [], yAxis = [], series = [];
const supRich = {sup:{fontSize:13, lineHeight:13, verticalAlign:'top', fontFamily:FONT, color:INK}};
const line = {show:true, onZero:false, lineStyle:{color:INK, width:1.2}};
const pow10 = v => '10{sup|' + v + '}';
const SYM = {1:5, 2:4.5};

rows.forEach((r, i) => {
  const last = i === rows.length - 1;
  // ----- left: time series -----
  const gL = grid.length;
  grid.push({left:107, top:r.top, width:386, height:r.h, containLabel:false});
  const xb = xAxis.length;
  xAxis.push({type:'value', gridIndex:gL, min:1600, max:1800, position:'bottom', axisLine:line,
    axisTick:{show:true, inside:true, length:5, customValues:timeTicks, lineStyle:{color:INK}},
    axisLabel:{customValues:timeTicks, formatter:v=>String(v), fontSize:20, color:INK, margin:10, fontFamily:FONT},
    splitLine:{show:true, lineStyle:{color:GMAJ, width:1}},
    name: last ? 'Time [s]' : '', nameLocation:'middle', nameGap:38, nameMoveOverlap:false,
    nameTextStyle:{fontSize:20, color:INK, fontFamily:FONT}});
  xAxis.push({type:'value', gridIndex:gL, min:1600, max:1800, position:'top', axisLine:line,
    axisTick:{show:true, inside:true, length:5, customValues:timeTicks, lineStyle:{color:INK}}, axisLabel:{show:false}, splitLine:{show:false}});
  const yl = yAxis.length;
  yAxis.push({type:'value', gridIndex:gL, min:r.yMin, max:r.yMax, position:'left', axisLine:line,
    axisTick:{show:true, inside:true, length:5, customValues:r.yTicks, lineStyle:{color:INK}},
    axisLabel:{customValues:r.yTicks, formatter:v=>String(v), fontSize:20, color:INK, margin:7, fontFamily:FONT},
    splitLine:{show:true, lineStyle:{color:GMAJ, width:1}},
    name:r.label, nameLocation:'middle', nameRotate:90, nameGap:r.gapL, nameMoveOverlap:false,
    nameTextStyle:{fontSize:20, lineHeight:27, color:INK, fontFamily:FONT, align:'center', rich:supRich}});
  yAxis.push({type:'value', gridIndex:gL, min:r.yMin, max:r.yMax, position:'right', axisLine:line,
    axisTick:{show:true, inside:true, length:5, customValues:r.yTicks, lineStyle:{color:INK}}, axisLabel:{show:false}, splitLine:{show:false}});
  r.ts.forEach((vals, s) => {
    series.push({type:'line', name:NAMES[s], xAxisIndex:xb, yAxisIndex:yl, smooth:0.5, symbol:'none',
      data: r.t.map((t, k) => [t, vals[k]]), lineStyle:{color:COLORS[s], width:TS_WIDTH[s]}, itemStyle:{color:COLORS[s]},
      z: 2 + s, silent:true, clip:true});
  });

  // ----- right: PSD (log10 coordinates) -----
  const gR = grid.length;
  grid.push({left:617, top:r.top, width:386, height:r.h, containLabel:false});
  const xr = xAxis.length;
  xAxis.push({type:'value', gridIndex:gR, min:F_MIN, max:F_MAX, position:'bottom', axisLine:line,
    axisTick:{show:true, inside:true, length:5, customValues:psdXMajor, lineStyle:{color:INK}},
    axisLabel:{customValues:psdXMajor, formatter:pow10, fontSize:20, lineHeight:24, color:INK, margin:14, fontFamily:FONT, rich:supRich},
    splitLine:{show:true, lineStyle:{color:GMAJ, width:1}},
    name: last ? 'Frequency [Hz]' : '', nameLocation:'middle', nameGap:44, nameMoveOverlap:false,
    nameTextStyle:{fontSize:20, color:INK, fontFamily:FONT}});
  xAxis.push({type:'value', gridIndex:gR, min:F_MIN, max:F_MAX, position:'top', axisLine:line,
    axisTick:{show:true, inside:true, length:3, customValues:psdXMinor, lineStyle:{color:INK}}, axisLabel:{show:false},
    splitLine:{show:true, lineStyle:{color:GMIN, width:1, type:[1.5,2.5]}}});
  const yr = yAxis.length;
  yAxis.push({type:'value', gridIndex:gR, min:r.pMin, max:r.pMax, position:'left', axisLine:line,
    axisTick:{show:true, inside:true, length:5, customValues:r.pMajor, lineStyle:{color:INK}},
    axisLabel:{customValues:r.pMajor, formatter:pow10, fontSize:20, lineHeight:24, color:INK, margin:10, fontFamily:FONT, rich:supRich},
    splitLine:{show:true, lineStyle:{color:GMAJ, width:1}},
    name:r.psd, nameLocation:'middle', nameRotate:90, nameGap:r.gapR, nameMoveOverlap:false,
    nameTextStyle:{fontSize:20, lineHeight:26.5, color:INK, fontFamily:FONT, align:'center', rich:supRich}});
  yAxis.push({type:'value', gridIndex:gR, min:r.pMin, max:r.pMax, position:'right', axisLine:line,
    axisTick:{show:true, inside:true, length:3, customValues:r.pMinor, lineStyle:{color:INK}}, axisLabel:{show:false},
    splitLine:{show:true, lineStyle:{color:GMIN, width:1, type:[1.5,2.5]}}});
  r.ps.forEach((pts, s) => {
    series.push({type:'line', name:NAMES[s], xAxisIndex:xr, yAxisIndex:yr, symbol:'circle', showSymbol:true,
      data: pts.map(p => ({value:[p[0], p[1]], symbolSize: SYM[p[2]] || 0})),
      lineStyle:{color:COLORS[s], width:3}, itemStyle:{color:COLORS[s]}, z: 2 + s, silent:true, clip:true});
  });
});

const icon = 'path://M0,3.4H81V4.6H0Z M37.5,4A3,3 0 1 1 43.5,4A3,3 0 1 1 37.5,4Z';
const chart = echarts.init(document.getElementById('c'), null, {renderer:'canvas'});
chart.setOption({
  animation:false,
  backgroundColor:'#ffffff',
  textStyle:{fontFamily:FONT},
  grid, xAxis, yAxis, series,
  legend:{left:295, top:1386, itemWidth:81, itemHeight:8, itemGap:20, padding:[7,8,8,7],
    borderColor:INK, borderWidth:1, backgroundColor:'#fff', selectedMode:false,
    textStyle:{fontSize:20, color:INK, fontFamily:FONT, padding:[0,0,0,4]},
    data: NAMES.map(n => ({name:n, icon:icon}))}
});
</script></body></html>
